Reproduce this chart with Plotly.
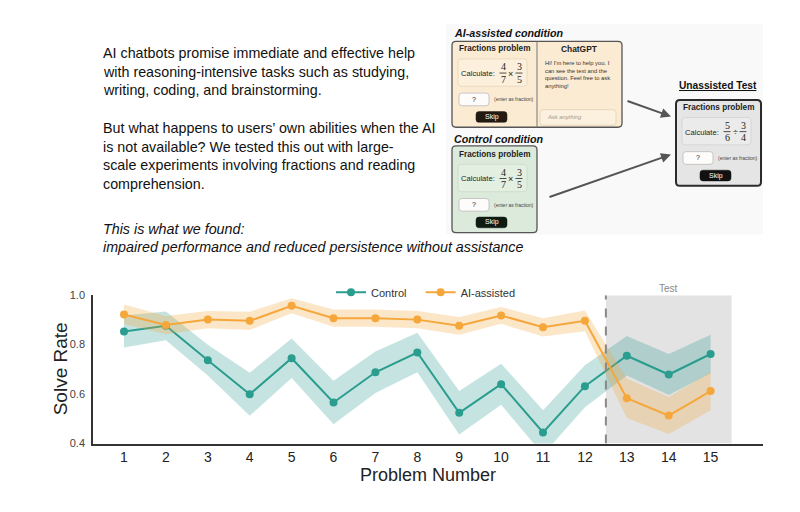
import plotly.graph_objects as go

# the page adds an 8px body margin, so the figure is drawn 8px smaller
# and every layout position below is given in window pixels
PAD = 8
W, H = 800 - PAD, 512 - PAD

# ---- chart data ----
problems = list(range(1, 16))
control_mean = [0.853, 0.876, 0.737, 0.599, 0.745, 0.566, 0.688, 0.768,
                0.524, 0.640, 0.445, 0.632, 0.755, 0.679, 0.762]
control_err = [0.065, 0.058, 0.062, 0.087, 0.080, 0.088, 0.084, 0.080,
               0.088, 0.083, 0.090, 0.085, 0.080, 0.083, 0.078]
ai_mean = [0.922, 0.879, 0.901, 0.896, 0.957, 0.907, 0.907, 0.901,
           0.876, 0.918, 0.870, 0.896, 0.583, 0.513, 0.612]
ai_err = [0.040, 0.037, 0.035, 0.037, 0.030, 0.035, 0.035, 0.035,
          0.036, 0.034, 0.037, 0.042, 0.080, 0.075, 0.077]
y_ticks = [0.4, 0.6, 0.8, 1.0]
y_ticktext = ["0.4", "0.6", "0.8", "1.0"]
test_start, test_end = 12.5, 15.5

TEAL = "#2a9d8f"
ORANGE = "#f5a73b"

intro_lines = [
    "AI chatbots promise immediate and effective help",
    "with reasoning-intensive tasks such as studying,",
    "writing, coding, and brainstorming.",
]
question_lines = [
    "But what happens to users\u2019 own abilities when the AI",
    "is not available? We tested this out with large-",
    "scale experiments involving fractions and reading",
    "comprehension.",
]
found_lines = [
    "This is what we found:",
    "impaired performance and reduced persistence without assistance",
]
chat_lines = [
    "Hi! I'm here to help you. I",
    "can see the text and the",
    "question. Feel free to ask",
    "anything!",
]

shapes = []
annotations = []


def X(px):
    return (px - PAD) / W


def Y(py):
    return 1 - (py - PAD) / H


def text(px, py, s, size, color="#111", anchor="left", family="Liberation Sans, Arial", angle=0):
    annotations.append(dict(
        x=X(px), y=Y(py), xref="paper", yref="paper", text=s, showarrow=False,
        xanchor=anchor, yanchor="middle", textangle=angle,
        font=dict(size=size, color=color, family=family),
    ))


def rrect(x0, y0, x1, y1, r, fill, line="#555", width=1, dash="solid"):
    pts = [("M", x0 + r, y0), ("L", x1 - r, y0), ("Q", x1, y0, x1, y0 + r),
           ("L", x1, y1 - r), ("Q", x1, y1, x1 - r, y1), ("L", x0 + r, y1),
           ("Q", x0, y1, x0, y1 - r), ("L", x0, y0 + r), ("Q", x0, y0, x0 + r, y0)]
    parts = []
    for p in pts:
        coords = p[1:]
        xy = []
        for i in range(0, len(coords), 2):
            xy.append(f"{X(coords[i]):.5f},{Y(coords[i + 1]):.5f}")
        parts.append(p[0] + " " + " ".join(xy))
    shapes.append(dict(type="path", xref="paper", yref="paper", path=" ".join(parts) + " Z",
                       fillcolor=fill, line=dict(color=line, width=width, dash=dash), layer="above"))


def hline(x0, x1, py, color="#222", width=0.8):
    shapes.append(dict(type="line", xref="paper", yref="paper", x0=X(x0), x1=X(x1),
                       y0=Y(py), y1=Y(py), line=dict(color=color, width=width), layer="above"))


def fraction(cx, top, num, den):
    serif = "Liberation Serif, Times New Roman"
    text(cx, top + 7, num, 10, "#222", "center", serif)
    hline(cx - 3.5, cx + 3.5, top + 13.5)
    text(cx, top + 20, den, 10, "#222", "center", serif)


def problem_panel(x0, y0, inner_fill, inner_line, skip_fill, expr):
    text(x0 + 42, y0 + 7.5, "<b>Fractions problem</b>", 8.2, "#222", "center")
    rrect(x0 + 6, y0 + 18, x0 + 75, y0 + 46, 3, inner_fill, inner_line, 0.8)
    text(x0 + 45, y0 + 33, "Calculate:", 7.6, "#222", "right")
    a, b, op, c, d = expr
    fraction(x0 + 51, y0 + 19, a, b)
    text(x0 + 59, y0 + 33, op, 9, "#222", "center")
    fraction(x0 + 67, y0 + 19, c, d)
    rrect(x0 + 7, y0 + 53, x0 + 37, y0 + 66, 3, "#fdfcfa", "#bbb", 0.8)
    text(x0 + 22, y0 + 59.5, "?", 7, "#222", "center")
    text(x0 + 40, y0 + 59.5, "(enter as fraction)", 5, "#444")
    rrect(x0 + 24, y0 + 72, x0 + 55, y0 + 83, 3, skip_fill, skip_fill, 0.5)
    text(x0 + 39.5, y0 + 77.5, "Skip", 7, "white", "center")


# ---- left text block ----
for i, s in enumerate(intro_lines):
    text(101, 48 + i * 19, s, 14.3)
for i, s in enumerate(question_lines):
    text(101, 125 + i * 19, s, 14.3)
for i, s in enumerate(found_lines):
    text(101, 228 + i * 19, f"<i>{s}</i>", 14.3)

# ---- experiment diagram ----
shapes.append(dict(type="rect", xref="paper", yref="paper", x0=X(446), x1=X(763), y0=Y(18), y1=Y(234),
                   fillcolor="#f9f9f9", line=dict(width=0), layer="below"))

text(452, 27, "<b><i>AI-assisted condition</i></b>", 10.7, "#111")
rrect(452, 36, 622, 124, 4, "#fbebd2", "#555", 1.3)
shapes.append(dict(type="line", xref="paper", yref="paper", x0=X(537), x1=X(537), y0=Y(36), y1=Y(124),
                   line=dict(color="#777", width=1), layer="above"))
problem_panel(452, 36, "#fcefdc", "#e6d6bb", "#231b12", ("4", "7", "\u00d7", "3", "5"))
text(579, 43.5, "<b>ChatGPT</b>", 8.4, "#222", "center")
for i, s in enumerate(chat_lines):
    text(543, 58 + i * 8, s, 5.8, "#333")
rrect(540, 106, 616, 122, 3, "#fcf0de", "#e3d3b8", 0.8)
text(545, 114, "<i>Ask anything</i>", 5.8, "#999")

text(452, 136, "<b><i>Control condition</i></b>", 10.7, "#111")
rrect(452, 143, 537, 232, 4, "#dceadb", "#555", 1.3)
problem_panel(452, 144, "#e3efe1", "#c9dac7", "#0e1a12", ("4", "7", "\u00d7", "3", "5"))

text(718, 81, "<b><u>Unassisted Test</u></b>", 10.2, "#111", "center")
rrect(676, 96, 761, 184, 4, "#e5e5e5", "#2b2b2b", 2)
problem_panel(676, 96, "#ebebeb", "#d2d2d2", "#111111", ("5", "6", "\u00f7", "3", "4"))

for hx, hy, tx, ty in [(671, 113, 626, 97), (671, 152, 548, 195)]:
    annotations.append(dict(x=X(hx), y=Y(hy), xref="paper", yref="paper", ax=tx - hx, ay=ty - hy,
                            text="", showarrow=True, arrowhead=2, arrowsize=1, arrowwidth=2,
                            arrowcolor="#555"))

# ---- chart ----
fig = go.Figure()

# trailing no-break spaces widen the first legend entry to match the spacing
for name, mean, err, color, rgba in [
    ("Control\u00a0\u00a0\u00a0", control_mean, control_err, TEAL, "rgba(42,157,143,0.27)"),
    ("AI-assisted", ai_mean, ai_err, ORANGE, "rgba(245,167,59,0.28)"),
]:
    upper = [m + e for m, e in zip(mean, err)]
    lower = [m - e for m, e in zip(mean, err)]
    fig.add_trace(go.Scatter(
        x=problems + problems[::-1], y=upper + lower[::-1], fill="toself", fillcolor=rgba,
        line=dict(width=0), mode="lines", showlegend=False, hoverinfo="skip",
    ))
    fig.add_trace(go.Scatter(
        x=problems, y=mean, name=name, mode="lines+markers",
        line=dict(color=color, width=2), marker=dict(color=color, size=8),
    ))

shapes.append(dict(type="rect", xref="x", yref="y", x0=test_start, x1=test_end, y0=0.4, y1=1.0,
                   fillcolor="#e3e3e3", line=dict(width=0), layer="below"))
shapes.append(dict(type="line", xref="x", yref="y", x0=test_start, x1=test_start, y0=0.4, y1=1.0,
                   line=dict(color="#888", width=2, dash="dash"), layer="above"))
annotations.append(dict(x=(test_start + test_end) / 2, y=1.0, xref="x", yref="y", text="Test",
                        showarrow=False, yanchor="bottom", yshift=-1,
                        font=dict(size=10, color="#888", family="Liberation Sans, Arial")))

# y-axis title placed by hand to sit close to the tick labels
text(60, 372, "Solve Rate", 19, "#222", "center", angle=-90)

fig.update_layout(
    width=W, height=H,
    margin=dict(l=0, r=0, t=0, b=0),
    paper_bgcolor="white", plot_bgcolor="white",
    font=dict(family="Liberation Sans, Arial", color="#222"),
    showlegend=True,
    legend=dict(orientation="h", x=X(331), y=Y(293), xanchor="left", yanchor="middle",
                font=dict(size=11, color="#333"), bgcolor="rgba(0,0,0,0)", itemwidth=30),
    xaxis=dict(domain=[X(93), X(763)], range=[0.26, 16.25], tickvals=problems,
               showgrid=False, zeroline=False, showline=True, linecolor="#333", linewidth=1.5,
               ticks="", tickfont=dict(size=14, color="#222"),
               title=dict(text="Problem Number", font=dict(size=18, color="#222"), standoff=4)),
    yaxis=dict(domain=[Y(448), Y(296)], range=[0.4, 1.0], tickvals=y_ticks, ticktext=y_ticktext,
               showgrid=False, zeroline=False, showline=True, linecolor="#333", linewidth=1.5,
               ticks="", tickfont=dict(size=11, color="#444"), ticklabelstandoff=4),
    shapes=shapes,
    annotations=annotations,
)

fig.write_html("out.html")
